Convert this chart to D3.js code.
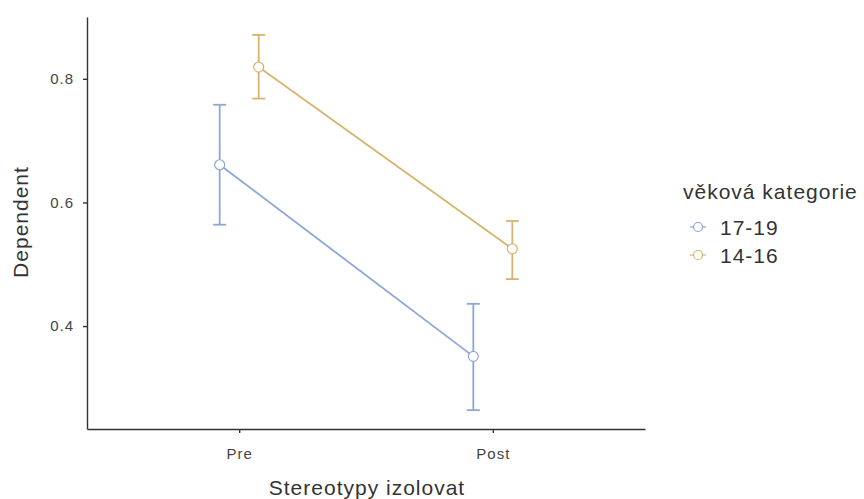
<!DOCTYPE html>
<html>
<head>
<meta charset="utf-8">
<script src="https://cdn.jsdelivr.net/npm/d3@7"></script>
<style>
body{margin:0;background:#fff;}
svg{font-family:"Liberation Sans",Arial,sans-serif;}
</style>
</head>
<body>
<svg id="canvas"></svg>
<script>
let width=864;
let height=499;

let categories=['Pre','Post'];
let groups=['17-19','14-16'];
let colors=['#8fa6d6','#d6b46e'];
let yTicks=[0.4,0.6,0.8];

// means and CI bounds, per group, per category
let means17=[0.661,0.351];
let lower17=[0.564,0.264];
let upper17=[0.758,0.436];
let means14=[0.819,0.525];
let lower14=[0.768,0.476];
let upper14=[0.871,0.570];

let series=[
    {name:groups[0],mean:means17,lo:lower17,hi:upper17,color:colors[0]},
    {name:groups[1],mean:means14,lo:lower14,hi:upper14,color:colors[1]}
];

let canvas=d3.select('#canvas').attr('width',width).attr('height',height);

let padLeft=87, padRight=645, padTop=17, padBottom=429;

let xScale=d3.scalePoint()
    .domain(categories)
    .range([padLeft,padRight])
    .padding(0.6);

let dodge=d3.scalePoint().domain(groups).range([-19.5,19.5]);

let yScale=d3.scaleLinear()
    .domain([0.2335,0.9])
    .range([padBottom,padTop]);

// axes
let xAxis=d3.axisBottom(xScale).tickSize(4).tickSizeOuter(0);
let gx=canvas.append('g').attr('transform','translate(0,'+padBottom+')').call(xAxis);
let yAxis=d3.axisLeft(yScale).tickValues(yTicks).tickFormat(d3.format('.1f')).tickSize(4).tickSizeOuter(0);
let gy=canvas.append('g').attr('transform','translate('+padLeft+',0)').call(yAxis);

[gx,gy].forEach(g=>{
    g.select('.domain').attr('stroke','#333').attr('stroke-width',1.4);
    g.selectAll('.tick line').attr('stroke','#333').attr('stroke-width',1.4);
    g.selectAll('.tick text').attr('fill','#444')
        .style('font-size','15px')
        .style('letter-spacing','1px')
        .style('font-family','"Liberation Sans",Arial,sans-serif');
});
gx.selectAll('.tick text').attr('dy','1.5em');
gy.selectAll('.tick text').attr('dx','-0.4em');

let titleStyle=sel=>sel.attr('fill','#333')
    .style('font-size','21px')
    .style('letter-spacing','1px');

// titles
canvas.append('text')
    .attr('transform','translate(28,222) rotate(-90)')
    .attr('text-anchor','middle')
    .call(titleStyle)
    .text('Dependent');

canvas.append('text')
    .attr('x',367)
    .attr('y',495)
    .attr('text-anchor','middle')
    .call(titleStyle)
    .text('Stereotypy izolovat');

// lines, error bars, points
series.forEach(s=>{
    let px=i=>xScale(categories[i])+dodge(s.name);
    let line=d3.line().x((d,i)=>px(i)).y(d=>yScale(d));
    canvas.append('path')
        .datum(s.mean)
        .attr('d',line)
        .attr('fill','none')
        .attr('stroke',s.color)
        .attr('stroke-width',1.8);

    categories.forEach((c,i)=>{
        let x=px(i);
        let g=canvas.append('g').attr('stroke',s.color).attr('stroke-width',1.8);
        g.append('line').attr('x1',x).attr('x2',x).attr('y1',yScale(s.lo[i])).attr('y2',yScale(s.hi[i]));
        g.append('line').attr('x1',x-6.5).attr('x2',x+6.5).attr('y1',yScale(s.lo[i])).attr('y2',yScale(s.lo[i]));
        g.append('line').attr('x1',x-6.5).attr('x2',x+6.5).attr('y1',yScale(s.hi[i])).attr('y2',yScale(s.hi[i]));
    });

    canvas.selectAll(null)
        .data(s.mean)
        .enter()
        .append('circle')
        .attr('cx',(d,i)=>px(i))
        .attr('cy',d=>yScale(d))
        .attr('r',5)
        .attr('fill','#fff')
        .attr('stroke',s.color)
        .attr('stroke-width',1.2);
});

// legend
let legend=canvas.append('g').attr('transform','translate(683,0)');
legend.append('text')
    .attr('x',0).attr('y',199)
    .call(titleStyle)
    .text('věková kategorie');

series.forEach((s,i)=>{
    let y=227+i*28;
    legend.append('line').attr('x1',7).attr('x2',23).attr('y1',y).attr('y2',y)
        .attr('stroke',s.color).attr('stroke-width',1.2);
    legend.append('circle').attr('cx',15).attr('cy',y).attr('r',4.5)
        .attr('fill','#fff').attr('stroke',s.color).attr('stroke-width',1.2);
    legend.append('text').attr('x',37).attr('y',y+7.5)
        .call(titleStyle)
        .text(s.name);
});
</script>
</body>
</html>
